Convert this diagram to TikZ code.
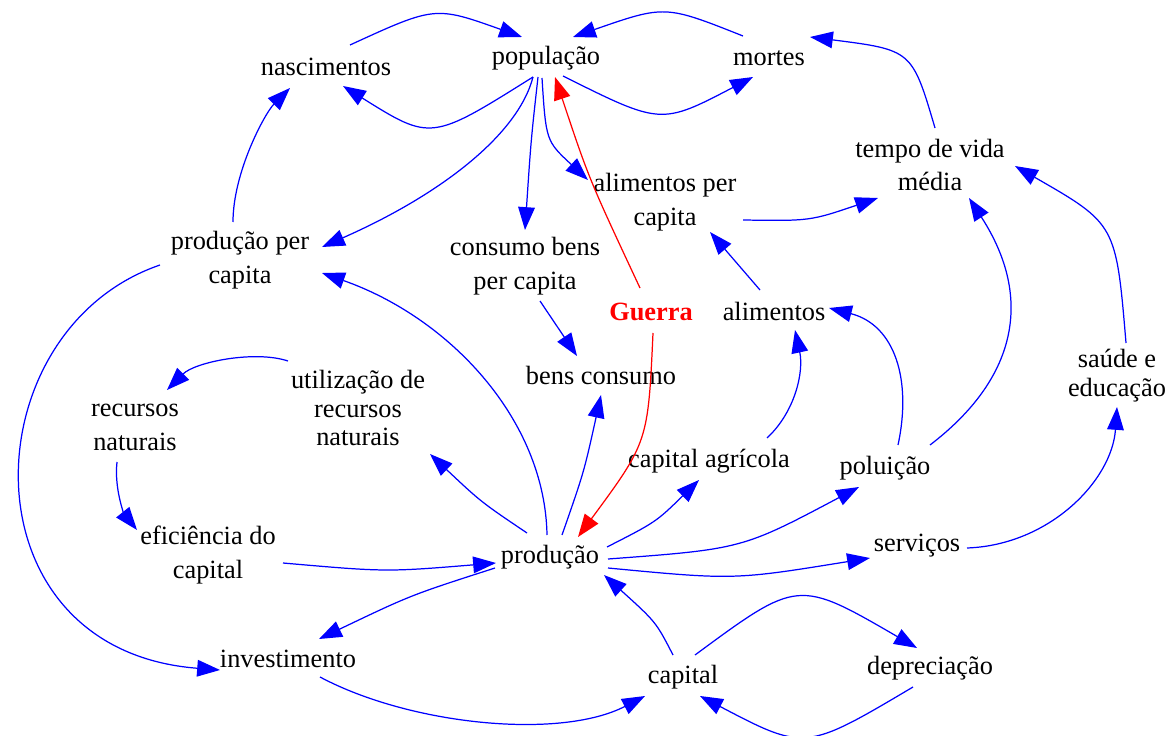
\documentclass[tikz,border=0pt]{standalone}
\usepackage{fontspec}
\setmainfont{Liberation Serif}
\usetikzlibrary{arrows.meta,calc}
\begin{document}
\begin{tikzpicture}[x=0.02cm,y=-0.02cm,
  lbl/.style={font=\fontsize{15}{19.3}\selectfont, align=center, inner sep=0pt},
  tight/.style={font=\fontsize{15}{16.4}\selectfont},
  arr/.style={blue, line width=0.7pt, -{Triangle[length=13pt,width=9.5pt]}},
  rarr/.style={arr, red}]
\useasboundingbox (0,0) rectangle (1169,736);

% nodes
\node[lbl] (nasc) at (326,67) {nascimentos};
\node[lbl] (pop) at (546,58) {população};
\node[lbl] (mort) at (769,58) {mortes};
\node[lbl] (tempo) at (930,165) {tempo de vida\\média};
\node[lbl] (alimpc) at (665,202) {alimentos per\\capita};
\node[lbl] (prodpc) at (240,260) {produção per\\capita};
\node[lbl] (consumo) at (525,266) {consumo bens\\per capita};
\node[lbl, text=red, font=\fontsize{15}{19}\selectfont\bfseries] (guerra) at (651,312) {Guerra};
\node[lbl] (alim) at (774,311) {alimentos};
\node[lbl] (bens) at (601,375) {bens consumo};
\node[lbl, tight] (util) at (358,408) {utilização de\\recursos\\naturais};
\node[lbl] (recnat) at (135,427) {recursos\\naturais};
\node[lbl] (capagr) at (709,461) {capital agrícola};
\node[lbl] (polu) at (885,468) {poluição};
\node[lbl, tight] (saude) at (1117,376) {saúde e\\educação};
\node[lbl] (efic) at (208,555) {eficiência do\\capital};
\node[lbl] (prod) at (550,557) {produção};
\node[lbl] (serv) at (917,546) {serviços};
\node[lbl] (invest) at (288,659) {investimento};
\node[lbl] (capital) at (683,677) {capital};
\node[lbl] (deprec) at (930,668) {depreciação};

% connectors
\draw[arr] ($(nasc)+(24,-22)$) .. controls (435,6) .. ($(pop)+(-24,-21)$);
\draw[arr] ($(pop)+(-13,19)$) .. controls (431,141) .. ($(nasc)+(17,19)$);
\draw[arr] ($(mort)+(-26,-22)$) .. controls (665,5) .. ($(pop)+(27,-21)$);
\draw[arr] ($(pop)+(17,18)$) .. controls (661,125) .. ($(mort)+(-16,19)$);
\draw[arr] ($(tempo)+(5,-37)$) .. controls (912,50) .. ($(mort)+(41,-21)$);
\draw[arr] ($(pop)+(-13,19)$) .. controls (518,135) and (440,195) .. ($(prodpc)+(82,-13)$);
\draw[arr] ($(pop)+(-8,19)$) .. controls (531,140) .. ($(consumo)+(0,-36)$);
\draw[arr] ($(pop)+(-4,20)$) .. controls (546,141) .. ($(alimpc)+(-77,-22)$);
\draw[rarr] ($(guerra)+(-11,-24)$) .. controls (589,179) .. ($(pop)+(9,19)$);
\draw[rarr] ($(guerra)+(2,21)$) .. controls (648,442) .. ($(prod)+(28,-20)$);
\draw[arr] ($(alimpc)+(78,18)$) .. controls (810,221) .. ($(tempo)+(-52,33)$);
\draw[arr] ($(saude)+(9,-33)$) .. controls (1116,224) .. ($(tempo)+(85,1)$);
\draw[arr] ($(polu)+(45,-23)$) .. controls (1015,380) and (1035,300) .. ($(tempo)+(39,33)$);
\draw[arr] ($(polu)+(13,-23)$) .. controls (912,380) and (895,325) .. ($(alim)+(55,-3)$);
\draw[arr] ($(alim)+(-14,-21)$) -- ($(alimpc)+(45,30)$);
\draw[arr] ($(capagr)+(58,-23)$) .. controls (795,412) and (804,372) .. ($(alim)+(21,19)$);
\draw[arr] ($(prod)+(57,-10)$) .. controls (656,522) .. ($(capagr)+(-10,19)$);
\draw[arr] ($(prod)+(58,2)$) .. controls (742,549) .. ($(polu)+(-26,19)$);
\draw[arr] ($(prod)+(58,11)$) .. controls (734,580) .. ($(serv)+(-47,12)$);
\draw[arr] ($(serv)+(50,2)$) .. controls (1050,545) and (1112,480) .. ($(saude)+(0,31)$);
\draw[arr] ($(prod)+(12,-22)$) .. controls (584,472) .. ($(bens)+(0,20)$);
\draw[arr] ($(consumo)+(15,35)$) -- ($(bens)+(-24,-19)$);
\draw[arr] ($(prod)+(-3,-22)$) .. controls (545,420) and (450,318) .. ($(prodpc)+(82,13)$);
\draw[arr] ($(prod)+(-23,-24)$) .. controls (481,502) .. ($(util)+(72,46)$);
\draw[arr] ($(util)+(-70,-47)$) .. controls (255,350) and (195,362) .. ($(recnat)+(32,-37)$);
\draw[arr] ($(recnat)+(-18,35)$) .. controls (114,490) and (125,515) .. ($(efic)+(-71,-25)$);
\draw[arr] ($(efic)+(75,8)$) .. controls (386,572) .. ($(prod)+(-54,6)$);
\draw[arr] ($(prod)+(-55,11)$) .. controls (411,595) .. ($(invest)+(31,-20)$);
\draw[arr] ($(prodpc)+(-80,5)$) .. controls (-30,330) and (-40,650) .. ($(invest)+(-68,11)$);
\draw[arr] ($(prodpc)+(-7,-38)$) .. controls (233,172) and (265,113) .. ($(nasc)+(-36,21)$);
\draw[arr] ($(invest)+(32,18)$) .. controls (410,725) and (560,740) .. ($(capital)+(-38,19)$);
\draw[arr] ($(capital)+(-10,-22)$) .. controls (656,622) .. ($(prod)+(54,18)$);
\draw[arr] ($(capital)+(12,-22)$) .. controls (798,579) .. ($(deprec)+(-13,-20)$);
\draw[arr] ($(deprec)+(-17,19)$) .. controls (805,751) .. ($(capital)+(17,19)$);
\end{tikzpicture}
\end{document}
